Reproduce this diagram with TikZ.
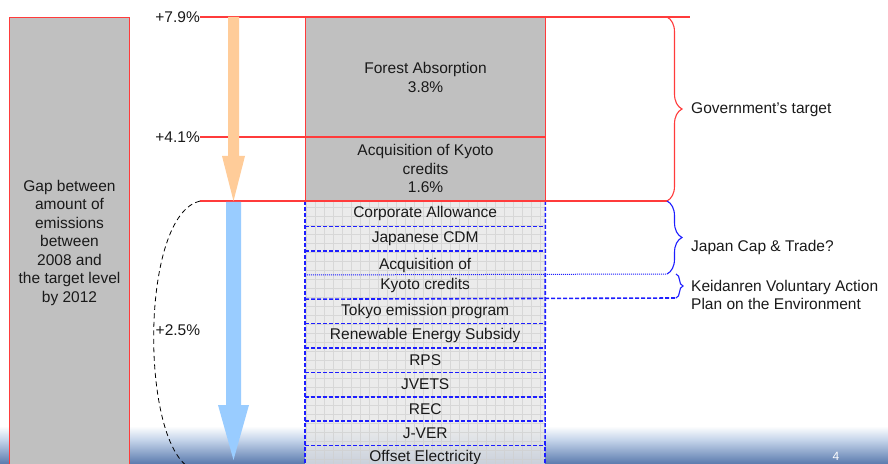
\documentclass[tikz,border=0pt]{standalone}
\usepackage{fontspec}
\setmainfont{Liberation Sans}
\usetikzlibrary{decorations.pathreplacing}
\definecolor{lred}{HTML}{FF3B3B}
\definecolor{boxgray}{HTML}{C0C0C0}
\definecolor{rowgray}{HTML}{E6E6E6}
\definecolor{gridgray}{HTML}{CFCFCF}
\definecolor{dblue}{HTML}{1E1EFF}
\definecolor{arrorange}{HTML}{FFCC99}
\definecolor{arrblue}{HTML}{99CCFF}
\definecolor{txt}{HTML}{1A1A1A}
\definecolor{sky1}{HTML}{C4D4EA}
\definecolor{sky2}{HTML}{5878AC}
\tikzset{
  lbl/.style={font=\fontsize{15.5bp}{18.5bp}\selectfont, text=txt, inner sep=0pt},
  redline/.style={draw=lred, line width=1.1bp},
  bluedash/.style={draw=dblue, line width=1.6bp, dash pattern=on 4bp off 2bp},
  bluedot/.style={draw=dblue, line width=1bp, dash pattern=on 1bp off 1bp},
  rowbox/.style={lbl, minimum width=240bp, minimum height=24bp, anchor=north west, align=center},
  bracedeco/.style={decorate, line width=1.1bp},
}
\begin{document}
\begin{tikzpicture}[x=1bp,y=-1bp]
\clip (0,0) rectangle (888,464);
\fill[white] (0,0) rectangle (888,464);
% slide background band
\shade[top color=white, bottom color=sky1] (0,426) rectangle (888,440);
\shade[top color=sky1, bottom color=sky2] (0,440) rectangle (888,464.5);
\node[white, font=\fontsize{12bp}{14bp}\selectfont, anchor=south, inner sep=0pt] (pg) at (836,461) {4};

% left gap box
\node[lbl, draw=lred, line width=1bp, fill=boxgray, minimum width=120bp, minimum height=450bp,
      anchor=north west, align=center] (gap) at (9,17)
  {Gap between\\amount of\\emissions\\between\\2008 and\\the target level\\by 2012};

% level labels
\node[lbl, anchor=east] (l79) at (200,17) {+7.9\%};
\node[lbl, anchor=east] (l41) at (200,137) {+4.1\%};
\coordinate (c79) at (200,17);
\coordinate (c41) at (200,137);
\coordinate (c25) at (200,201);

% upper government box
\node[draw=lred, line width=1.1bp, fill=boxgray, minimum width=240bp, minimum height=120bp,
      anchor=north west, inner sep=0pt] (forest) at (305,17) {};
\node[draw=lred, line width=1.1bp, fill=boxgray, minimum width=240bp, minimum height=64bp,
      anchor=north west, inner sep=0pt] (kyoto) at (305,137) {};
\node[lbl, align=center] (forestt) at (forest.center) {Forest Absorption\\3.8\%};
\node[lbl, align=center] (kyotot) at ([yshift=1bp]kyoto.center) {Acquisition of Kyoto\\credits\\1.6\%};

% lower box background with grid
\fill[rowgray, fill opacity=0.8] (305,201) rectangle (545,470);
\begin{scope}
\clip (305,201) rectangle (545,470);
\draw[gridgray, line width=0.5bp, opacity=0.7, step=9bp] (305,201) grid (550,470);
\end{scope}

% rows
\node[rowbox, minimum height=25bp] (r1) at (305,201) {Corporate Allowance};
\node[rowbox] (r2) at (r1.south west) {Japanese CDM};
\node[rowbox, minimum height=48bp] (r3) at (r2.south west) {Acquisition of\\[1.5bp]Kyoto credits};
\node[rowbox] (r4) at (r3.south west) {Tokyo emission program};
\node[rowbox] (r5) at (r4.south west) {Renewable Energy Subsidy};
\node[rowbox] (r6) at (r5.south west) {RPS};
\node[rowbox] (r7) at (r6.south west) {JVETS};
\node[rowbox] (r8) at (r7.south west) {REC};
\node[rowbox] (r9) at (r8.south west) {J-VER};
\node[rowbox] (r10) at (r9.south west) {Offset Electricity};

\foreach \r in {r1,r2,r4,r5,r6,r7,r8,r9}{
  \draw[bluedash] (\r.south west) -- (\r.south east);
}
\draw[bluedash] (r1.north west) -- (305,470);
\draw[bluedash] (r1.north east) -- (545,470);

% extended lines
\coordinate (dotend) at (667,274);
\coordinate (dashend) at (676,298);
\draw[bluedot] (r3.west) -- (dotend);
\draw[bluedash] (r3.south west) -- (dashend);

% red level lines
\coordinate (e79) at (690,17);
\coordinate (e41) at (545,137);
\coordinate (e25) at (667,201);
\draw[redline] (c79) -- (e79);
\draw[redline] (c41) -- (e41);
\draw[redline] (c25) -- (e25);

% arrows
\fill[arrorange] (228,17) -- (239,17) -- (239,156) -- (245,156) -- (233.5,201) -- (222,156) -- (228,156) -- cycle;
\fill[arrblue] (226,202) -- (241,202) -- (241,405) -- (249,405) -- (233.5,460) -- (218,405) -- (226,405) -- cycle;

% dashed arc
\coordinate (arcend) at (190,468);
\draw[black, line width=0.8bp, dash pattern=on 5bp off 3.5bp] (c25) .. controls (140,215) and (140,440) .. (arcend);
\node[lbl, anchor=west, fill=white, inner sep=0.5bp] (l25) at (155,330) {+2.5\%};

% braces
\draw[bracedeco, lred, decoration={brace, amplitude=15bp}] (e79 -| e25) -- (e25);
\draw[bracedeco, dblue, decoration={brace, amplitude=15bp}] (e25) -- (dotend);
\draw[bracedeco, dblue, decoration={brace, amplitude=7bp}] (676,274) -- (dashend);

% brace labels
\node[lbl, anchor=west] (gov) at (691,110) {Government’s target};
\node[lbl, anchor=west] (jct) at (691,247) {Japan Cap \& Trade?};
\node[lbl, anchor=west, align=left] (kei) at (691,295) {Keidanren Voluntary Action\\Plan on the Environment};
\end{tikzpicture}
\end{document}
